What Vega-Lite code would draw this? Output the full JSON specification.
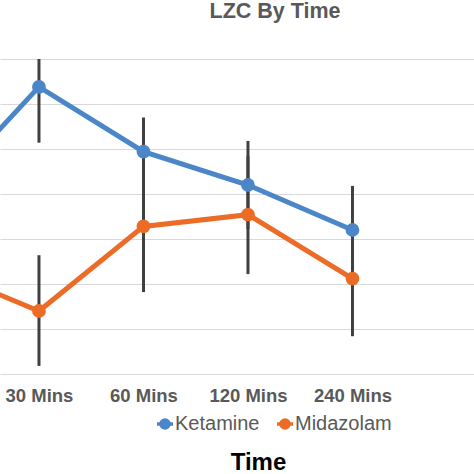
{
  "$schema": "https://vega.github.io/schema/vega-lite/v6.json",
  "width": 474,
  "height": 315,
  "autosize": "none",
  "padding": {"top": 59, "left": 0, "right": 0, "bottom": 100},
  "config": {"view": {"stroke": null}, "font": "Liberation Sans"},
  "title": {
    "text": "LZC By Time",
    "fontSize": 21.5,
    "fontWeight": "bold",
    "color": "#595959",
    "anchor": "middle",
    "dx": 38,
    "offset": 20,
    "baseline": "alphabetic"
  },
  "data": {
    "values": [
      {"time_idx": 0, "time": "Baseline", "drug": "Ketamine", "lzc": 0.594, "lo": null, "hi": null},
      {"time_idx": 1, "time": "30 Mins", "drug": "Ketamine", "lzc": 0.719, "lo": 0.657, "hi": 0.752},
      {"time_idx": 2, "time": "60 Mins", "drug": "Ketamine", "lzc": 0.647, "lo": 0.609, "hi": 0.685},
      {"time_idx": 3, "time": "120 Mins", "drug": "Ketamine", "lzc": 0.610, "lo": 0.561, "hi": 0.659},
      {"time_idx": 4, "time": "240 Mins", "drug": "Ketamine", "lzc": 0.560, "lo": 0.511, "hi": 0.609},
      {"time_idx": 0, "time": "Baseline", "drug": "Midazolam", "lzc": 0.518, "lo": null, "hi": null},
      {"time_idx": 1, "time": "30 Mins", "drug": "Midazolam", "lzc": 0.470, "lo": 0.409, "hi": 0.532},
      {"time_idx": 2, "time": "60 Mins", "drug": "Midazolam", "lzc": 0.564, "lo": 0.491, "hi": 0.636},
      {"time_idx": 3, "time": "120 Mins", "drug": "Midazolam", "lzc": 0.577, "lo": 0.511, "hi": 0.642},
      {"time_idx": 4, "time": "240 Mins", "drug": "Midazolam", "lzc": 0.506, "lo": 0.442, "hi": 0.570}
    ]
  },
  "encoding": {
    "x": {
      "field": "time_idx",
      "type": "quantitative",
      "scale": {"domain": [0.627, 5.163], "nice": false, "zero": false},
      "axis": {
        "values": [1, 2, 3, 4],
        "labelExpr": "datum.value == 1 ? '30 Mins' : datum.value == 2 ? '60 Mins' : datum.value == 3 ? '120 Mins' : '240 Mins'",
        "grid": false,
        "ticks": false,
        "domain": false,
        "labelFontSize": 18.5,
        "labelFontWeight": "bold",
        "labelColor": "#595959",
        "labelPadding": 12,
        "title": "Time",
        "titleFontSize": 24,
        "titleFontWeight": "bold",
        "titleColor": "#000000",
        "titleX": 258,
        "titleY": 88,
        "titleAlign": "center",
        "titleBaseline": "middle"
      }
    }
  },
  "layer": [
    {
      "mark": {"type": "rule", "strokeWidth": 3, "color": "#404040", "clip": true},
      "encoding": {
        "y": {
          "field": "lo",
          "type": "quantitative",
          "scale": {"domain": [0.4, 0.75], "nice": false, "zero": false},
          "axis": {
            "values": [0.4, 0.45, 0.5, 0.55, 0.6, 0.65, 0.7, 0.75],
            "labels": false,
            "ticks": false,
            "domain": false,
            "title": null,
            "gridColor": "#d9d9d9",
            "gridWidth": 1
          }
        },
        "y2": {"field": "hi"}
      }
    },
    {
      "mark": {"type": "line", "strokeWidth": 5, "clip": true},
      "encoding": {
        "y": {"field": "lzc", "type": "quantitative"},
        "color": {
          "field": "drug",
          "type": "nominal",
          "scale": {"domain": ["Ketamine", "Midazolam"], "range": ["#4a86c8", "#ec6c27"]},
          "legend": {
            "orient": "none",
            "legendX": 155,
            "legendY": 355,
            "direction": "horizontal",
            "title": null,
            "symbolType": "M-1,0L1,0M0.5,0A0.5,0.5,0,1,1,-0.5,0A0.5,0.5,0,1,1,0.5,0",
            "symbolSize": 256,
            "symbolStrokeWidth": 3.5,
            "labelFontSize": 20,
            "labelColor": "#595959",
            "labelOffset": 0,
            "columnPadding": 10
          }
        }
      }
    },
    {
      "mark": {"type": "point", "filled": true, "size": 190, "opacity": 1, "clip": true},
      "encoding": {
        "y": {"field": "lzc", "type": "quantitative"},
        "color": {"field": "drug", "type": "nominal"}
      }
    }
  ]
}
